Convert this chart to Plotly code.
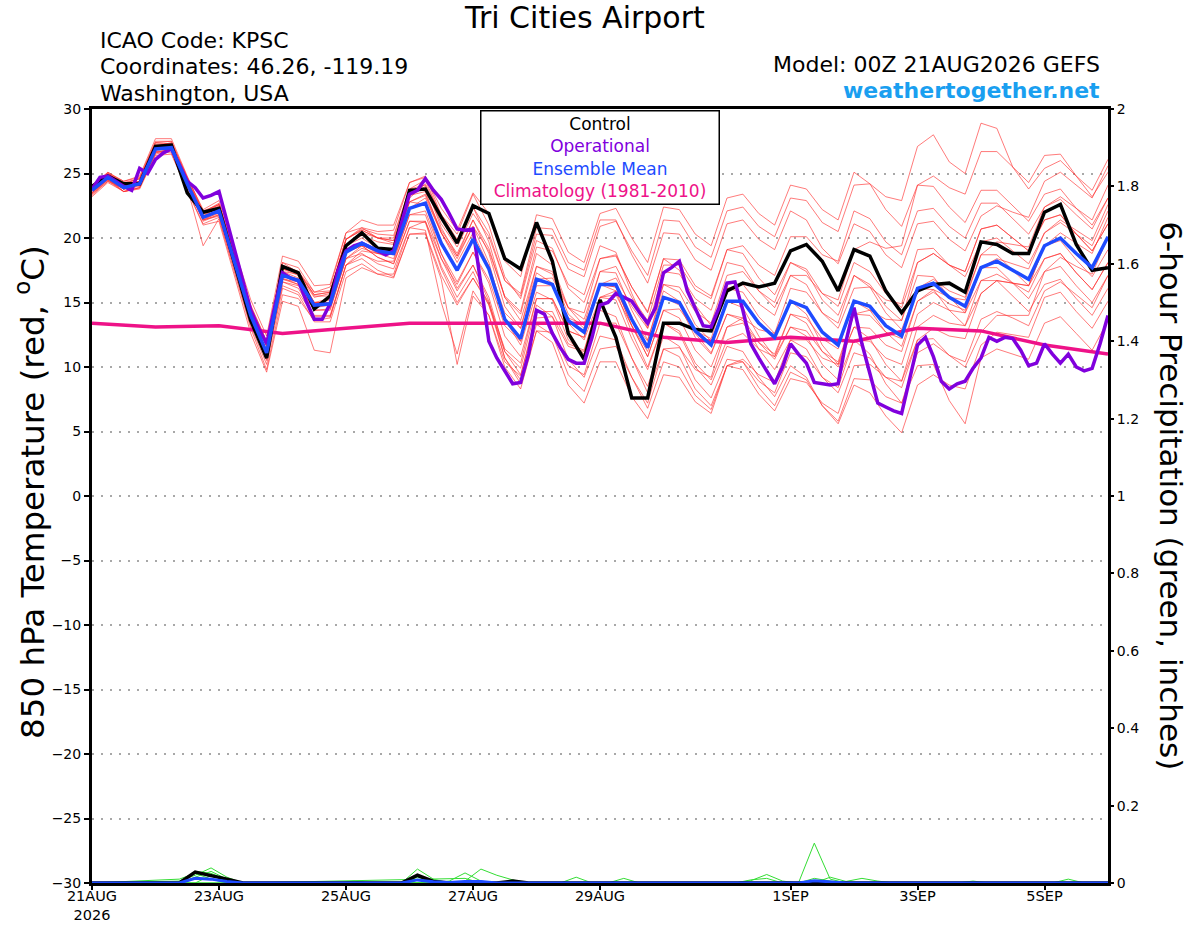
import pandas as pd
import plotly.graph_objects as go

START = pd.Timestamp("2026-08-21 00:00")

# forecast hours of each series
HOURS_6H = list(range(0, 385, 6))
HOURS_3H = list(range(0, 385, 3))
HOURS_24H = list(range(0, 385, 24))

CONTROL = [24.0, 24.8, 24.2, 24.2, 27.1, 27.2, 23.5, 22.0,
           22.3, 18.0, 13.6, 10.7, 17.8, 17.3, 14.5, 15.5,
           19.4, 20.4, 19.2, 19.1, 23.7, 23.8, 21.6, 19.6,
           22.5, 21.9, 18.4, 17.6, 21.2, 18.2, 12.6, 10.6,
           15.2, 12.3, 7.6, 7.6, 13.4, 13.4, 12.9, 12.8,
           15.9, 16.5, 16.2, 16.5, 19.0, 19.5, 18.2, 15.9,
           19.1, 18.6, 15.9, 14.2, 15.9, 16.4, 16.5, 15.8,
           19.7, 19.5, 18.8, 18.8, 22.0, 22.6, 19.5, 17.5,
           17.7]

ENS_MEAN = [23.7, 24.7, 23.9, 24.2, 26.9, 27.0, 24.2, 21.6,
            22.1, 18.0, 14.0, 11.1, 17.1, 16.7, 14.8, 14.9,
            18.9, 19.6, 19.0, 18.8, 22.3, 22.7, 19.6, 17.5,
            19.9, 17.6, 13.7, 12.2, 16.8, 16.4, 13.6, 12.7,
            16.4, 16.4, 13.7, 11.5, 15.4, 15.0, 12.8, 11.7,
            15.1, 15.1, 13.4, 12.3, 15.1, 14.6, 12.7, 11.7,
            15.1, 14.7, 13.2, 12.4, 16.1, 16.5, 15.4, 14.7,
            17.7, 18.2, 17.5, 16.8, 19.4, 20.0, 18.8, 17.7,
            20.1]

# operational run comes every 3 hours
OPERATIONAL = [23.8, 24.7, 24.8, 24.4, 24.0, 23.7, 25.4, 25.0,
               26.1, 26.6, 26.9, 25.7, 24.4, 23.9, 23.1, 23.3,
               23.6, 21.3, 19.0, 16.7, 14.4, 13.0, 11.8, 14.6,
               17.3, 16.9, 16.7, 15.1, 13.7, 13.7, 14.9, 17.5,
               19.0, 19.4, 19.6, 19.3, 19.0, 18.7, 19.0, 21.3,
               23.4, 23.7, 24.6, 23.7, 23.0, 21.9, 20.7, 20.6,
               20.7, 16.4, 12.0, 10.7, 9.7, 8.7, 8.8, 11.0,
               14.4, 14.1, 12.6, 11.5, 10.6, 10.3, 10.3, 12.3,
               14.8, 15.0, 15.7, 15.4, 15.1, 14.2, 13.4, 14.6,
               17.3, 17.7, 18.2, 15.9, 14.6, 13.2, 13.1, 14.6,
               16.5, 16.6, 14.4, 11.8, 10.7, 9.7, 8.7, 10.0,
               11.8, 11.0, 10.3, 8.8, 8.7, 8.6, 8.7, 12.0,
               14.6, 11.8, 9.5, 7.2, 6.9, 6.6, 6.4, 9.2,
               11.7, 12.3, 10.8, 8.9, 8.3, 8.7, 8.9, 9.9,
               10.7, 12.3, 12.0, 12.3, 12.2, 11.3, 10.1, 10.3,
               11.8, 11.0, 10.3, 11.0, 10.0, 9.7, 9.9, 11.8,
               14.0]

CLIMATOLOGY = [13.4, 13.1, 13.2, 12.6, 13.0, 13.4, 13.4, 13.4, 13.4,
               12.3, 11.9, 12.3, 12.0, 13.0, 12.8, 11.7, 11.0]

MEMBER_01 = [24.0, 25.1, 24.3, 24.6, 27.4, 27.5, 24.7, 22.1, 22.6, 18.6, 14.8, 12.0, 18.1, 17.7, 15.8, 15.9,
             19.9, 20.7, 20.3, 20.2, 23.8, 24.5, 21.6, 19.8, 22.4, 20.4, 16.7, 15.5, 20.3, 20.2, 17.6, 17.0,
             20.9, 21.3, 19.0, 17.1, 21.4, 21.3, 19.3, 18.5, 22.1, 22.4, 20.9, 20.1, 23.1, 22.9, 21.2, 20.5,
             24.1, 24.2, 23.2, 22.9, 27.1, 28.0, 25.9, 25.0, 28.9, 28.5, 25.5, 23.8, 25.4, 26.0, 24.8, 23.7, 26.1]
MEMBER_02 = [23.9, 25.0, 24.4, 24.8, 27.7, 27.7, 24.8, 22.0, 22.4, 18.4, 14.4, 11.6, 17.6, 17.3, 15.6, 15.8,
             19.9, 20.6, 20.0, 19.8, 23.3, 24.0, 21.1, 19.3, 21.9, 20.1, 16.7, 15.7, 20.8, 20.7, 18.1, 17.5,
             21.4, 21.4, 18.7, 16.5, 20.4, 20.3, 18.3, 17.5, 21.1, 21.4, 19.9, 19.1, 22.1, 21.4, 19.2, 18.0,
             21.1, 20.5, 18.7, 17.7, 21.1, 21.3, 19.9, 19.0, 21.7, 22.5, 22.0, 21.6, 24.4, 25.1, 24.1, 23.1, 25.6]
MEMBER_03 = [23.5, 24.6, 24.0, 24.4, 27.2, 27.2, 24.4, 21.7, 22.1, 18.2, 14.4, 11.7, 17.9, 17.4, 15.5, 15.5,
             19.4, 20.2, 19.7, 19.5, 23.1, 24.2, 21.8, 20.3, 23.4, 21.0, 17.0, 15.3, 19.8, 19.2, 16.1, 15.0,
             18.4, 18.7, 16.2, 14.3, 18.4, 18.3, 16.3, 15.5, 19.1, 19.4, 17.9, 17.1, 20.1, 20.1, 18.7, 18.2,
             22.1, 21.5, 19.7, 18.7, 22.1, 22.3, 20.9, 20.0, 22.7, 22.7, 21.5, 20.3, 22.4, 23.0, 21.8, 20.7, 23.1]
MEMBER_04 = [23.7, 24.6, 23.6, 23.8, 26.4, 26.5, 23.7, 21.1, 21.6, 17.4, 13.2, 10.2, 16.1, 15.6, 13.5, 13.5,
             17.4, 18.0, 17.2, 16.9, 20.3, 20.3, 16.8, 10.2, 15.5, 14.0, 10.0, 8.3, 12.8, 12.7, 10.1, 9.4,
             13.4, 13.4, 10.7, 8.5, 12.4, 11.6, 9.0, 7.6, 10.6, 10.4, 8.4, 7.0, 9.6, 9.0, 7.0, 5.8,
             9.1, 9.0, 7.7, 7.2, 11.1, 11.8, 10.9, 10.4, 13.7, 14.3, 13.8, 13.2, 15.9, 16.6, 15.6, 14.6, 17.1]
MEMBER_05 = [23.4, 24.4, 23.6, 23.9, 26.6, 26.9, 24.3, 21.9, 22.6, 18.5, 14.5, 11.6, 17.6, 17.1, 15.0, 15.0,
             18.9, 19.4, 18.5, 18.0, 21.3, 21.2, 17.6, 15.0, 16.9, 14.8, 11.2, 9.9, 14.8, 13.9, 10.6, 9.2,
             12.4, 12.1, 9.2, 6.8, 10.4, 10.0, 7.8, 6.7, 10.1, 10.4, 8.9, 8.0, 11.1, 10.8, 9.2, 8.4,
             12.1, 11.0, 8.7, 7.2, 10.1, 10.2, 7.4, 5.6, 10.7, 11.4, 11.0, 10.6, 13.4, 13.9, 12.6, 11.3, 13.6]
MEMBER_06 = [23.9, 24.9, 24.0, 24.2, 26.9, 26.9, 24.0, 21.4, 21.8, 17.6, 13.6, 10.6, 16.6, 16.1, 14.0, 14.0,
             17.9, 19.0, 18.8, 18.9, 22.8, 23.3, 20.4, 18.4, 20.9, 19.0, 15.5, 14.3, 19.3, 19.0, 16.4, 15.6,
             19.4, 18.9, 15.7, 13.0, 16.4, 16.2, 14.3, 13.4, 17.1, 17.4, 15.9, 15.0, 18.1, 17.6, 15.7, 14.7,
             18.1, 17.4, 15.7, 14.6, 18.1, 18.8, 17.9, 17.4, 20.7, 21.0, 20.0, 19.0, 21.4, 21.8, 20.3, 19.0, 21.1]
MEMBER_07 = [23.3, 24.4, 23.8, 24.2, 27.1, 27.4, 24.7, 22.2, 22.9, 19.0, 15.2, 12.4, 18.6, 18.2, 16.3, 16.4,
             20.4, 20.8, 20.0, 19.6, 22.8, 22.6, 18.8, 16.1, 17.9, 15.4, 11.2, 9.4, 13.8, 13.9, 11.6, 11.2,
             15.4, 15.9, 13.7, 12.0, 16.4, 15.8, 13.3, 12.0, 15.1, 14.6, 12.4, 10.8, 13.1, 12.4, 10.2, 9.0,
             12.1, 12.0, 10.7, 10.2, 14.1, 15.0, 14.4, 14.2, 17.7, 18.4, 18.0, 17.6, 20.4, 21.2, 20.3, 19.4, 22.1]
MEMBER_08 = [23.8, 24.8, 23.8, 24.1, 26.7, 26.6, 23.7, 21.0, 21.3, 16.9, 12.6, 9.6, 15.1, 14.7, 11.3, 11.1,
             16.9, 17.7, 17.2, 17.2, 20.8, 21.3, 18.4, 16.4, 18.9, 16.8, 13.2, 12.0, 16.8, 16.9, 14.6, 14.2,
             18.4, 18.6, 16.2, 14.2, 18.4, 17.5, 14.8, 13.2, 16.1, 15.8, 13.9, 12.6, 15.1, 14.1, 11.7, 10.2,
             13.1, 12.2, 10.2, 8.9, 12.1, 13.0, 12.4, 12.2, 15.7, 16.7, 16.5, 16.3, 19.4, 19.8, 18.3, 17.0, 19.1]
MEMBER_09 = [24.0, 25.1, 24.4, 24.7, 27.5, 27.5, 24.6, 21.9, 22.3, 18.2, 14.1, 11.2, 17.1, 16.8, 15.0, 15.3,
             19.4, 20.4, 20.0, 20.0, 23.8, 24.1, 20.8, 18.6, 20.9, 18.1, 13.7, 11.7, 15.8, 15.2, 12.1, 11.0,
             14.4, 13.9, 10.7, 8.0, 11.4, 10.8, 8.3, 7.0, 10.1, 9.8, 7.9, 6.6, 9.1, 8.8, 7.2, 6.4,
             10.1, 10.2, 9.2, 8.9, 13.1, 14.0, 13.4, 13.2, 16.7, 17.2, 16.5, 15.8, 18.4, 18.8, 17.3, 16.0, 18.1]
MEMBER_10 = [23.6, 24.5, 23.6, 23.9, 26.5, 26.8, 24.2, 21.7, 22.4, 18.1, 13.9, 10.8, 16.6, 16.3, 14.6, 14.8,
             18.9, 19.4, 18.5, 18.0, 21.3, 21.3, 17.8, 15.4, 17.4, 14.8, 10.7, 9.0, 13.3, 12.5, 9.4, 8.1,
             11.4, 11.6, 9.2, 7.2, 11.4, 11.5, 9.8, 9.2, 13.1, 13.8, 12.9, 12.6, 16.1, 15.8, 14.2, 13.4,
             17.1, 16.4, 14.7, 13.6, 17.1, 17.0, 15.4, 14.2, 16.7, 16.7, 15.5, 14.3, 16.4, 16.8, 15.3, 14.0, 16.1]
MEMBER_11 = [24.1, 25.0, 24.2, 24.4, 27.1, 27.1, 24.2, 21.5, 21.9, 17.9, 14.0, 11.3, 17.4, 17.2, 15.4, 15.7,
             19.9, 20.8, 20.5, 20.6, 24.3, 24.8, 21.8, 19.9, 22.4, 19.7, 15.4, 13.6, 17.8, 17.2, 14.1, 13.0,
             16.4, 16.2, 13.2, 10.8, 14.4, 14.5, 12.8, 12.2, 16.1, 16.4, 14.9, 14.0, 17.1, 17.1, 15.7, 15.2,
             19.1, 19.7, 19.2, 19.4, 24.1, 24.8, 23.9, 23.4, 26.7, 26.7, 25.5, 24.3, 26.4, 26.5, 24.8, 23.2, 25.1]
MEMBER_12 = [23.5, 24.6, 23.8, 24.2, 27.0, 27.2, 24.4, 21.9, 22.5, 18.6, 14.7, 12.0, 18.1, 17.3, 15.0, 14.8,
             18.4, 18.8, 18.0, 17.6, 20.8, 20.6, 15.0, 11.0, 15.9, 14.0, 10.4, 9.3, 14.3, 14.3, 11.8, 11.3,
             15.4, 15.6, 13.2, 11.2, 15.4, 14.8, 12.3, 11.0, 14.1, 13.6, 11.4, 9.8, 12.1, 11.4, 9.2, 8.0,
             11.1, 10.7, 9.2, 8.4, 12.1, 12.2, 10.9, 10.0, 12.7, 14.0, 14.0, 14.0, 17.4, 18.5, 17.8, 17.2, 20.1]
MEMBER_13 = [23.7, 24.8, 24.2, 24.6, 27.4, 27.3, 24.2, 21.4, 21.7, 17.6, 13.6, 10.8, 16.8, 16.6, 14.9, 15.2,
             19.4, 20.0, 19.2, 18.9, 22.3, 22.7, 19.6, 17.5, 19.9, 17.8, 14.2, 13.0, 17.8, 17.4, 14.6, 13.7,
             17.4, 17.3, 14.4, 12.1, 15.9, 15.1, 12.6, 11.1, 14.1, 13.8, 11.9, 10.6, 13.1, 12.8, 11.2, 10.4,
             14.1, 14.0, 12.7, 12.2, 16.1, 16.8, 15.9, 15.4, 18.7, 19.7, 19.5, 19.3, 22.4, 23.2, 22.3, 21.4, 24.1]
MEMBER_14 = [23.9, 24.8, 23.8, 24.0, 26.6, 26.9, 24.4, 22.0, 22.7, 18.6, 14.6, 11.6, 17.6, 17.4, 15.8, 16.2,
             20.4, 21.4, 21.0, 21.0, 24.3, 24.7, 22.3, 20.6, 23.5, 21.9, 18.2, 17.0, 21.8, 21.5, 18.9, 18.1,
             21.9, 22.3, 20.0, 18.1, 22.4, 22.2, 20.3, 19.4, 23.1, 23.4, 21.9, 21.0, 24.1, 23.8, 22.2, 21.4,
             25.1, 24.2, 22.2, 20.9, 24.1, 24.0, 22.4, 21.2, 23.7, 23.7, 22.5, 21.3, 23.4, 23.8, 22.3, 21.0, 23.1]
MEMBER_15 = [23.4, 24.5, 23.8, 24.2, 26.9, 26.8, 23.9, 19.4, 21.5, 17.2, 13.0, 9.8, 15.6, 15.3, 13.6, 13.8,
             17.9, 18.7, 18.2, 18.2, 21.8, 21.8, 18.4, 15.9, 17.9, 15.1, 10.7, 8.7, 12.8, 11.9, 8.6, 7.2,
             10.4, 10.4, 7.7, 6.0, 9.4, 9.2, 7.3, 6.4, 10.1, 10.6, 9.4, 8.8, 12.1, 12.1, 10.7, 10.2,
             14.1, 14.4, 13.7, 13.6, 18.1, 18.8, 17.9, 17.4, 20.7, 21.0, 20.0, 19.0, 21.4, 21.8, 20.3, 19.0, 21.1]
MEMBER_16 = [23.8, 24.8, 24.1, 24.4, 27.2, 27.3, 24.4, 21.8, 22.3, 18.1, 14.0, 10.9, 16.8, 16.4, 14.4, 14.4,
             18.4, 19.4, 19.0, 19.0, 22.8, 23.4, 20.6, 18.8, 21.4, 18.8, 14.7, 13.0, 17.3, 16.5, 13.4, 12.1,
             15.4, 15.2, 12.2, 9.8, 13.4, 12.8, 10.3, 9.0, 12.1, 12.6, 11.4, 10.8, 14.1, 13.8, 12.2, 11.4,
             15.1, 14.4, 12.7, 11.6, 15.1, 15.8, 14.9, 14.4, 17.7, 17.7, 16.5, 15.3, 17.4, 17.8, 16.3, 15.0, 17.1]
MEMBER_17 = [23.2, 24.3, 23.6, 23.9, 26.7, 26.8, 24.0, 21.3, 21.8, 17.8, 14.0, 11.2, 17.4, 16.9, 15.0, 15.0,
             18.9, 19.5, 18.8, 18.4, 21.8, 22.1, 18.8, 16.6, 18.9, 16.5, 12.4, 10.8, 15.3, 15.3, 12.8, 12.3,
             16.4, 16.9, 14.7, 13.0, 17.4, 17.2, 15.3, 14.4, 18.1, 17.8, 15.9, 14.6, 17.1, 16.4, 14.2, 13.0,
             16.1, 16.2, 15.2, 14.9, 19.1, 19.2, 17.9, 17.0, 19.7, 20.0, 19.0, 18.0, 20.4, 21.4, 20.6, 19.8, 22.6]
MEMBER_18 = [24.0, 25.0, 24.2, 24.6, 27.3, 27.3, 24.4, 21.7, 22.1, 17.8, 13.6, 10.5, 16.3, 15.8, 13.9, 13.9,
             17.9, 18.4, 17.5, 17.0, 20.3, 20.4, 17.1, 14.8, 16.9, 15.0, 11.4, 10.3, 15.3, 15.3, 12.8, 12.3,
             16.4, 15.9, 12.7, 10.0, 13.4, 12.6, 10.0, 8.6, 11.6, 11.2, 9.2, 7.7, 10.1, 9.2, 7.0, 5.6,
             8.6, 8.0, 6.2, 4.9, 8.6, 9.4, 8.6, 8.3, 11.7, 12.7, 12.5, 12.3, 15.4, 15.8, 14.3, 13.0, 15.1]
MEMBER_19 = [23.7, 24.7, 24.0, 24.3, 27.0, 27.2, 24.5, 22.0, 22.6, 18.5, 14.6, 11.7, 17.7, 17.4, 15.6, 15.8,
             19.9, 20.6, 20.0, 19.8, 23.3, 23.6, 20.4, 18.1, 20.4, 17.8, 13.7, 12.0, 16.3, 16.3, 13.8, 13.3,
             17.4, 17.8, 15.4, 13.6, 17.9, 17.9, 16.0, 15.3, 19.1, 18.8, 16.9, 15.6, 18.1, 17.4, 15.2, 14.0,
             17.1, 16.2, 14.2, 12.9, 16.1, 16.0, 14.4, 13.2, 15.7, 16.7, 16.5, 16.3, 19.4, 20.4, 19.6, 18.8, 21.6]
MEMBER_20 = [23.5, 24.5, 23.8, 24.1, 26.8, 26.9, 24.1, 21.4, 22.0, 17.9, 13.8, 10.9, 16.9, 16.4, 14.4, 14.5,
             18.4, 19.2, 18.8, 18.7, 22.3, 23.1, 20.4, 18.6, 21.4, 19.2, 15.4, 14.1, 18.8, 17.9, 14.6, 13.2,
             16.4, 16.2, 13.2, 10.8, 14.4, 13.8, 11.3, 10.0, 13.1, 13.4, 11.9, 11.0, 14.1, 13.4, 11.2, 10.0,
             13.1, 13.0, 11.7, 11.2, 15.1, 16.0, 15.4, 15.2, 18.7, 18.7, 17.5, 16.3, 18.4, 18.8, 17.3, 16.0, 18.1]

MEMBERS = [MEMBER_01, MEMBER_02, MEMBER_03, MEMBER_04, MEMBER_05, MEMBER_06, MEMBER_07,
           MEMBER_08, MEMBER_09, MEMBER_10, MEMBER_11, MEMBER_12, MEMBER_13, MEMBER_14,
           MEMBER_15, MEMBER_16, MEMBER_17, MEMBER_18, MEMBER_19, MEMBER_20]

# 6-hour precip (inches), only the hours around the showers
CONTROL_PCP_H = [0, 33, 39, 45, 51, 57, 117, 123, 129, 135, 153, 159, 165, 384]
CONTROL_PCP = [0, 0, 0.028, 0.02, 0.01, 0, 0, 0.02, 0.004, 0, 0, 0.005, 0, 0]
MEAN_PCP_H = [0, 33, 39, 45, 51, 57, 117, 123, 129, 135, 141, 147, 153, 267, 273, 279, 285, 384]
MEAN_PCP = [0, 0, 0.012, 0.01, 0.004, 0, 0, 0.008, 0.003, 0.001, 0.004, 0.004, 0, 0, 0.006, 0.003, 0, 0]
GREEN_PCP_H = [
    [0, 33, 39, 45, 51, 57, 117, 123, 129, 135, 267, 273, 279, 285, 384],
    [0, 33, 39, 45, 51, 57, 129, 135, 141, 147, 153, 243, 249, 255, 261, 267, 384],
    [0, 33, 39, 45, 51, 57, 135, 141, 147, 153, 159, 165, 273, 279, 285, 291, 297, 303, 384],
    [0, 39, 45, 51, 57, 93, 99, 105, 117, 123, 129, 135, 267, 273, 279, 285, 384],
    [0, 177, 183, 189, 195, 201, 207, 363, 369, 375, 384],
    [0, 243, 249, 255, 261, 327, 333, 339, 384],
    [0, 33, 39, 45, 51, 57, 141, 147, 153, 384],
]
GREEN_PCP = [
    [0, 0.005, 0.02, 0.039, 0.015, 0, 0, 0.036, 0.01, 0, 0, 0.103, 0.01, 0, 0],
    [0, 0, 0.03, 0.025, 0.008, 0, 0, 0.005, 0.026, 0.005, 0, 0, 0.006, 0.022, 0.005, 0, 0],
    [0, 0, 0.015, 0.03, 0.01, 0, 0, 0.005, 0.036, 0.02, 0.008, 0, 0, 0.015, 0.004, 0.012, 0.005, 0, 0],
    [0, 0, 0.02, 0.012, 0, 0, 0.005, 0, 0, 0.015, 0.005, 0, 0, 0.012, 0.005, 0, 0],
    [0, 0, 0.015, 0, 0, 0.012, 0, 0, 0.01, 0, 0],
    [0, 0, 0.008, 0.012, 0, 0, 0.005, 0, 0],
    [0, 0.01, 0.025, 0.01, 0, 0, 0.012, 0, 0],
]

TICK_DATES = ["2026-08-21", "2026-08-23", "2026-08-25", "2026-08-27",
              "2026-08-29", "2026-09-01", "2026-09-03", "2026-09-05"]
TICK_TEXT = ["21AUG<br>2026", "23AUG", "25AUG", "27AUG", "29AUG", "1SEP", "3SEP", "5SEP"]

FONT = "DejaVu Sans"
PURPLE = "#8000dd"
BLUE = "#1e4bff"
MAGENTA = "#ee1288"


def to_dates(hours):
    return [START + pd.Timedelta(hours=h) for h in hours]


def main():
    t6 = to_dates(HOURS_6H)
    fig = go.Figure()

    for m in MEMBERS:
        fig.add_trace(go.Scatter(x=t6, y=m, mode="lines", hoverinfo="skip",
                                 line=dict(color="rgba(255,45,45,0.7)", width=0.9)))

    fig.add_trace(go.Scatter(x=to_dates(HOURS_24H), y=CLIMATOLOGY, mode="lines",
                             line=dict(color=MAGENTA, width=3.5)))
    fig.add_trace(go.Scatter(x=t6, y=CONTROL, mode="lines", line=dict(color="black", width=3.5)))
    fig.add_trace(go.Scatter(x=to_dates(HOURS_3H), y=OPERATIONAL, mode="lines",
                             line=dict(color=PURPLE, width=3.5)))
    fig.add_trace(go.Scatter(x=t6, y=ENS_MEAN, mode="lines", line=dict(color=BLUE, width=3.5)))

    # precip on the right axis
    for h, v in zip(GREEN_PCP_H, GREEN_PCP):
        fig.add_trace(go.Scatter(x=to_dates(h), y=v, yaxis="y2", mode="lines",
                                 line=dict(color="#33dd33", width=1)))
    fig.add_trace(go.Scatter(x=to_dates(CONTROL_PCP_H), y=CONTROL_PCP, yaxis="y2", mode="lines",
                             line=dict(color="black", width=3.5)))
    fig.add_trace(go.Scatter(x=to_dates(MEAN_PCP_H), y=MEAN_PCP, yaxis="y2", mode="lines",
                             line=dict(color=BLUE, width=3)))

    legend_txt = ("Control<br>"
                  f"<span style='color:{PURPLE}'>Operational</span><br>"
                  f"<span style='color:{BLUE}'>Ensemble Mean</span><br>"
                  f"<span style='color:{MAGENTA}'>Climatology (1981-2010)</span>")

    annos = [
        dict(text="Tri Cities Airport", x=0.485, xanchor="center", y=1, yshift=92,
             font=dict(size=30)),
        dict(text="ICAO Code: KPSC", x=0, xanchor="left", xshift=6, y=1, yshift=69,
             font=dict(size=22)),
        dict(text="Coordinates: 46.26, -119.19", x=0, xanchor="left", xshift=6, y=1, yshift=43,
             font=dict(size=22)),
        dict(text="Washington, USA", x=0, xanchor="left", xshift=6, y=1, yshift=16,
             font=dict(size=22)),
        dict(text="Model: 00Z 21AUG2026 GEFS", x=1, xanchor="right", xshift=-6, y=1, yshift=45,
             font=dict(size=22)),
        dict(text="<b>weathertogether.net</b>", x=1, xanchor="right", xshift=-6, y=1, yshift=19,
             font=dict(size=22, color="#1a9ff0")),
        dict(text=legend_txt, x=0.5, xanchor="center", y=1, yanchor="top", yshift=-1, align="center",
             bgcolor="white", bordercolor="black", borderwidth=1.5, borderpad=2,
             width=233, height=88, font=dict(size=17)),
        dict(text="850 hPa Temperature (red, <sup>o</sup>C)", x=0, xanchor="center", xshift=-61,
             y=0.504, textangle=-90, font=dict(size=32.5)),
        dict(text="6-hour Precipitation (green, inches)", x=1, xanchor="center", xshift=63,
             y=0.501, textangle=90, font=dict(size=31)),
    ]
    for a in annos:
        a.setdefault("xref", "paper")
        a.setdefault("yref", "paper")
        a.setdefault("yanchor", "middle")
        a.setdefault("showarrow", False)
        fig.add_annotation(**a)

    fig.update_layout(
        width=1200, height=927,
        margin=dict(l=92, r=92, t=109, b=44, autoexpand=False),
        paper_bgcolor="white", plot_bgcolor="white",
        showlegend=False,
        font=dict(family=FONT, size=14, color="black"),
        xaxis=dict(type="date", range=[START, START + pd.Timedelta(hours=384)],
                   tickvals=TICK_DATES, ticktext=TICK_TEXT, ticks="outside", ticklen=4,
                   tickwidth=1.5, tickcolor="black", showgrid=False, zeroline=False,
                   showline=True, linewidth=3, linecolor="black", mirror=True,
                   tickfont=dict(size=14.5), ticklabelstandoff=-6, automargin=False),
        yaxis=dict(range=[-30, 30], tick0=0, dtick=5, ticks="outside", ticklen=5,
                   tickwidth=1.5, tickcolor="black", showgrid=True, gridcolor="#a8a8a8",
                   griddash="2px,7px", gridwidth=1.5, zeroline=False,
                   showline=True, linewidth=3, linecolor="black", mirror=True,
                   tickfont=dict(size=14), automargin=False),
        yaxis2=dict(range=[0, 2], tick0=0, dtick=0.2, overlaying="y", side="right",
                    ticks="outside", ticklen=5, tickwidth=1.5, tickcolor="black",
                    showgrid=False, zeroline=False, showline=False, tickfont=dict(size=14),
                    automargin=False),
    )

    fig.write_html("out.html", config={"displayModeBar": False},
                   post_script="document.body.style.margin='0';")


if __name__ == '__main__':
    main()
